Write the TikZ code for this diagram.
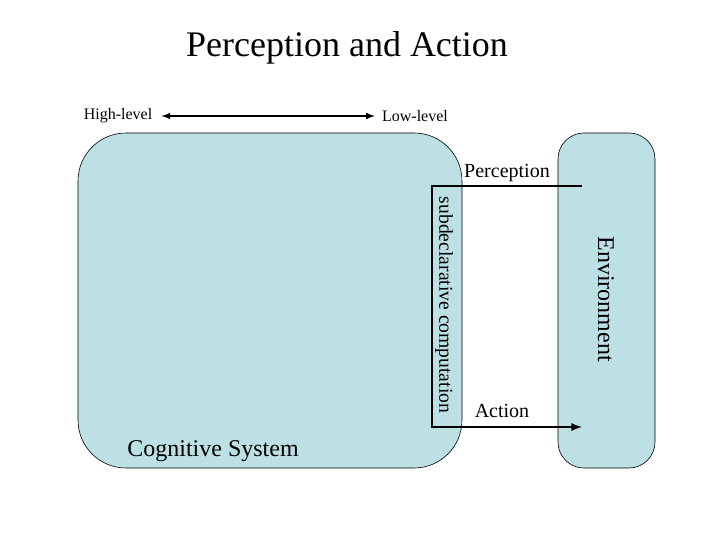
\documentclass[tikz,border=0pt]{standalone}
\usepackage{fontspec}
\setmainfont{Liberation Serif}
\usetikzlibrary{calc}
\begin{document}
\begin{tikzpicture}[x=1pt,y=-1pt,
  box/.style={draw=black,fill=boxblue,line width=0.6pt},
  lbl/.style={inner sep=1pt}]
\definecolor{boxblue}{HTML}{BCE0E4}
\useasboundingbox (0,0) rectangle (720,540);
\draw[box,rounded corners=48pt] (78,133) rectangle (462,468);
\draw[box,rounded corners=26pt] (558,133) rectangle (655,468);
\node[lbl,font=\fontsize{36}{40}\selectfont] (title) at (347,48) {Perception and Action};
\node[lbl,font=\fontsize{16}{18}\selectfont] (hi) at (118,116) {High-level};
\node[lbl,font=\fontsize{16}{18}\selectfont] (lo) at (415,116) {Low-level};
\draw[line width=2pt,latex-latex] ($(hi.east)+(8,0)$) -- ($(lo.west)+(-6,0)$);
\node[lbl,font=\fontsize{20}{22}\selectfont] (perc) at (507,173) {Perception};
\node[lbl,font=\fontsize{20}{22}\selectfont] (act) at (502,411) {Action};
\node[lbl,font=\fontsize{24}{26}\selectfont,rotate=-90] (env) at (606,299) {Environment};
\node[lbl,font=\fontsize{19.6}{22}\selectfont,rotate=-90] (sub) at (444,305) {subdeclarative computation};
\node[lbl,font=\fontsize{24}{26}\selectfont] (cog) at (213,451) {Cognitive System};
\coordinate (p1) at (582,186);
\coordinate (a1) at (582,427);
\draw[line width=2.6pt,-latex] (p1) -- (432,186) -- (432,427) -- (a1);
\end{tikzpicture}
\end{document}
